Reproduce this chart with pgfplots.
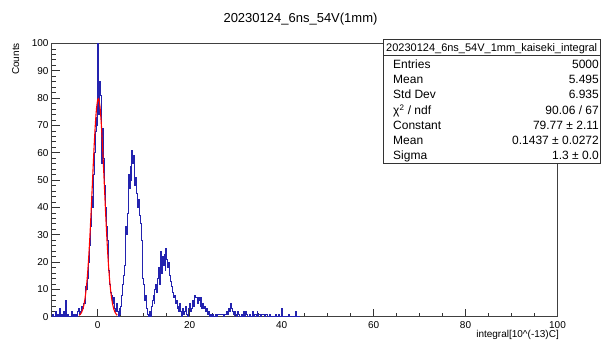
\documentclass[border=0pt]{standalone}
\usepackage{fontspec}
\setmainfont{Liberation Sans}
\usepackage{pgfplots}
\usepackage{pgfplotstable}
\pgfplotsset{compat=1.18}

\definecolor{histblue}{RGB}{35,35,175}
\definecolor{fitred}{RGB}{255,0,0}

% Bin contents, bin width 0.2, first bin starting at -10 (one line = one unit of x)
\pgfplotstableread[row sep=\\]{
count\\
0\\1\\0\\0\\2\\
0\\1\\0\\3\\0\\
1\\0\\0\\2\\0\\
6\\0\\1\\0\\0\\
0\\2\\0\\1\\0\\
0\\1\\0\\2\\3\\
1\\2\\4\\3\\5\\
5\\8\\11\\10\\14\\
20\\26\\33\\44\\40\\
52\\60\\68\\73\\70\\
100\\74\\86\\81\\56\\
69\\58\\48\\40\\33\\
28\\22\\17\\12\\9\\
8\\5\\7\\3\\2\\
5\\2\\0\\3\\1\\
4\\8\\12\\15\\19\\
33\\30\\38\\52\\47\\
55\\50\\61\\56\\59\\
48\\51\\45\\40\\43\\
37\\34\\28\\20\\14\\
12\\6\\8\\3\\1\\
0\\2\\0\\4\\6\\
8\\5\\10\\12\\9\\
14\\18\\12\\24\\16\\
22\\19\\23\\17\\25\\
21\\18\\20\\15\\13\\
11\\9\\7\\8\\5\\
6\\3\\4\\2\\5\\
2\\0\\3\\1\\2\\
4\\1\\0\\2\\3\\
5\\2\\3\\6\\4\\
8\\7\\7\\5\\7\\
6\\4\\7\\3\\5\\
3\\4\\2\\3\\1\\
2\\0\\1\\0\\0\\
1\\0\\0\\1\\0\\
1\\1\\1\\1\\1\\
1\\1\\0\\1\\1\\
2\\1\\3\\2\\5\\
3\\2\\1\\0\\2\\
1\\0\\2\\1\\0\\
0\\1\\0\\2\\0\\
0\\2\\1\\0\\0\\
1\\0\\0\\2\\0\\
1\\1\\0\\2\\0\\
1\\1\\0\\1\\1\\
1\\0\\1\\1\\0\\
0\\0\\1\\0\\0\\
0\\0\\0\\1\\0\\
0\\1\\0\\0\\0\\
3\\0\\0\\0\\0\\
0\\0\\1\\0\\0\\
0\\0\\0\\0\\0\\
2\\0\\0\\0\\0\\
0\\
}\histdata

\begin{document}
\begin{tikzpicture}
\useasboundingbox (0,0) rectangle (601pt,340pt);

\begin{axis}[
  at={(51.7pt,23.3pt)}, anchor=south west,
  scale only axis, width=505.8pt, height=273.4pt,
  xmin=-10, xmax=100, ymin=0, ymax=100,
  xtick={0,20,...,100}, ytick={0,10,...,100},
  minor x tick num=3, minor y tick num=4,
  tick align=inside, xtick pos=bottom, ytick pos=left,
  major tick length=8pt, minor tick length=4pt,
  tick style={black!80, line width=0.5pt},
  axis line style={black!75, line width=0.6pt},
  /pgf/number format/assume math mode=true,
  ticklabel style={font=\fontsize{10}{12}\selectfont},
  xticklabel style={anchor=north, inner sep=0pt, yshift=-5pt},
  yticklabel style={anchor=east, inner sep=0pt, xshift=-3pt},
]
  \addplot[const plot mark left, histblue, line width=0.5pt]
    table[x expr={-10+0.2*\coordindex}, y=count] {\histdata};
  % Gaussian fit to the pedestal peak
  \addplot[fitred, smooth, line width=1.1pt] coordinates {
    (-4.00,0.50) (-3.75,0.90) (-3.50,1.57) (-3.25,2.64) (-3.00,4.28)
    (-2.75,6.70) (-2.50,10.09) (-2.25,14.65) (-2.00,20.48) (-1.75,27.61)
    (-1.50,35.87) (-1.25,44.90) (-1.00,54.17) (-0.75,62.99) (-0.50,70.57)
    (-0.25,76.20) (0.00,79.28) (0.1437,79.77) (0.25,79.50) (0.50,76.83)
    (0.75,71.55) (1.00,64.21) (1.25,55.54) (1.50,46.29) (1.75,37.18)
    (2.00,28.78) (2.25,21.47) (2.50,15.43) (2.75,10.69) (3.00,7.14)
    (3.25,4.59) (3.50,2.85) (3.75,1.70) (4.00,0.98) (4.25,0.54)
  };
\end{axis}

% Title and axis titles
\node[anchor=base, inner sep=0pt, font=\fontsize{13}{15}\selectfont]
  at (300.5pt,317pt) {20230124\_6ns\_54V(1mm)};
\node[anchor=base east, rotate=90, inner sep=0pt, font=\fontsize{10}{12}\selectfont]
  at (19pt,297pt) {Counts};
\node[anchor=base east, inner sep=0pt, font=\fontsize{10}{12}\selectfont]
  at (559pt,2.6pt) {integral[10\^{}(-13)C]};

% Statistics box
\draw[black!80, line width=0.6pt, fill=white] (383pt,177pt) rectangle (600.5pt,301pt);
\draw[black!80, line width=0.6pt] (383pt,285pt) -- (600.5pt,285pt);
\node[anchor=base, inner sep=0pt, font=\fontsize{11}{13}\selectfont]
  at (491.7pt,288pt) {20230124\_6ns\_54V\_1mm\_kaiseki\_integral};
\begin{scope}[every node/.style={inner sep=0pt, font=\fontsize{12}{14}\selectfont}]
  \node[anchor=base west] at (393pt,271pt) {Entries};
  \node[anchor=base east] at (599pt,271pt) {5000};
  \node[anchor=base west] at (393pt,256pt) {Mean};
  \node[anchor=base east] at (599pt,256pt) {5.495};
  \node[anchor=base west] at (393pt,241pt) {Std Dev};
  \node[anchor=base east] at (599pt,241pt) {6.935};
  \node[anchor=base west] at (393pt,225.5pt) {χ\textsuperscript{2} / ndf};
  \node[anchor=base east] at (599pt,225.5pt) {90.06 / 67};
  \node[anchor=base west] at (393pt,210.5pt) {Constant};
  \node[anchor=base east] at (599pt,210.5pt) {79.77 ± 2.11};
  \node[anchor=base west] at (393pt,195pt) {Mean};
  \node[anchor=base east] at (599pt,195pt) {0.1437 ± 0.0272};
  \node[anchor=base west] at (393pt,180pt) {Sigma};
  \node[anchor=base east] at (599pt,180pt) {1.3 ± 0.0};
\end{scope}
\end{tikzpicture}
\end{document}
